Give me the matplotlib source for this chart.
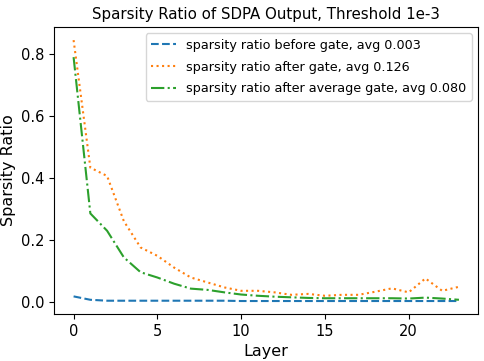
import numpy as np
import matplotlib
matplotlib.use("Agg")
import matplotlib.pyplot as plt

layers = np.arange(24)
before_gate = [0.017, 0.006, 0.003, 0.003, 0.003, 0.003, 0.003, 0.003, 0.003, 0.003,
               0.002, 0.002, 0.002, 0.002, 0.002, 0.002, 0.002, 0.002, 0.002, 0.002,
               0.002, 0.002, 0.002, 0.002]
after_gate = [0.845, 0.433, 0.406, 0.26, 0.175, 0.148, 0.11, 0.078, 0.062, 0.046,
              0.035, 0.035, 0.03, 0.022, 0.025, 0.019, 0.022, 0.022, 0.032, 0.043,
              0.03, 0.075, 0.035, 0.048]
after_avg_gate = [0.79, 0.285, 0.229, 0.143, 0.095, 0.078, 0.058, 0.042, 0.038, 0.03,
                  0.023, 0.019, 0.016, 0.014, 0.012, 0.011, 0.011, 0.011, 0.011, 0.011,
                  0.01, 0.013, 0.01, 0.006]

fig, ax = plt.subplots(figsize=(4.85, 3.61), dpi=100)
ax.plot(layers, before_gate, linestyle='--', label='sparsity ratio before gate, avg 0.003')
ax.plot(layers, after_gate, linestyle=':', label='sparsity ratio after gate, avg 0.126')
ax.plot(layers, after_avg_gate, linestyle='-.', label='sparsity ratio after average gate, avg 0.080')

ax.set_title('Sparsity Ratio of SDPA Output, Threshold 1e-3', fontsize=10.8)
ax.set_xlabel('Layer', fontsize=11.5)
ax.set_ylabel('Sparsity Ratio', fontsize=11.5)
ax.tick_params(labelsize=10.5)
ax.legend(loc='upper right', fontsize=9.2, labelspacing=0.7)

fig.subplots_adjust(left=0.112, right=0.986, top=0.925, bottom=0.13)
fig.savefig('out.png', dpi=100)
